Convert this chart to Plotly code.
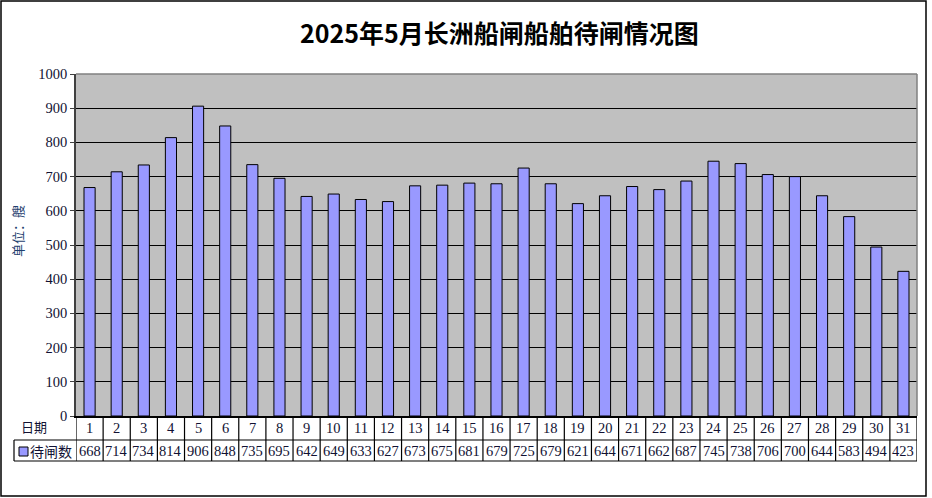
import plotly.graph_objects as go

days = list(range(1, 32))
day_labels = [str(d) for d in days]
waiting = [668, 714, 734, 814, 906, 848, 735, 695, 642, 649, 633, 627, 673, 675,
           681, 679, 725, 679, 621, 644, 671, 662, 687, 745, 738, 706, 700, 644,
           583, 494, 423]
y_ticks = list(range(0, 1001, 100))
title_text = "2025年5月长洲船闸船舶待闸情况图"
y_title = "单位：艘"
row1_label = "日期"
series_name = "待闸数"

BAR_COLOR = "#9999ff"
W, H = 932, 498
L, R, T, B = 76, 917, 74, 416


def px(xp):
    return (xp - L) / (R - L)


def py(yp):
    return (B - yp) / (B - T)


fig = go.Figure()
fig.add_trace(go.Bar(
    x=days, y=waiting, name=series_name, width=0.41,
    marker=dict(color=BAR_COLOR, line=dict(color="black", width=1)),
))

num_font = dict(family="Liberation Serif, Times New Roman, serif", size=14.5, color="#111133")
cjk_font = dict(family="Noto Sans CJK SC, sans-serif", size=13, color="#111133")

shapes = []
annotations = []

# outer frame
shapes.append(dict(type="rect", xref="paper", yref="paper",
                   x0=px(1), x1=px(926), y0=py(496), y1=py(1),
                   line=dict(color="black", width=1.5), fillcolor="rgba(0,0,0,0)"))

# table rows
y_r1_bot = py(440)
y_r2_bot = py(461)
shapes.append(dict(type="line", xref="paper", yref="paper",
                   x0=px(14), x1=1, y0=y_r1_bot, y1=y_r1_bot,
                   line=dict(color="black", width=1.2)))
shapes.append(dict(type="line", xref="paper", yref="paper",
                   x0=px(14), x1=1, y0=y_r2_bot, y1=y_r2_bot,
                   line=dict(color="black", width=1.2)))
shapes.append(dict(type="line", xref="paper", yref="paper",
                   x0=px(14), x1=px(14), y0=y_r1_bot, y1=y_r2_bot,
                   line=dict(color="black", width=1.2)))
for k in range(len(days) + 1):
    xb = days[0] - 0.5 + k
    shapes.append(dict(type="line", xref="x", yref="paper",
                       x0=xb, x1=xb, y0=0, y1=y_r2_bot,
                       line=dict(color="black", width=1.2)))

for d, lab, v in zip(days, day_labels, waiting):
    annotations.append(dict(x=d, y=py(428), xref="x", yref="paper", text=lab,
                            showarrow=False, font=num_font, xanchor="center", yanchor="middle"))
    annotations.append(dict(x=d, y=py(451), xref="x", yref="paper", text=str(v),
                            showarrow=False, font=num_font, xanchor="center", yanchor="middle"))

# legend swatch + series name
shapes.append(dict(type="rect", xref="paper", yref="paper",
                   x0=px(19), x1=px(28), y0=py(456), y1=py(447),
                   line=dict(color="black", width=1), fillcolor=BAR_COLOR))
annotations.append(dict(x=px(51), y=py(451), xref="paper", yref="paper", text=series_name,
                        showarrow=False, font=dict(family="Noto Sans CJK SC, sans-serif", size=14, color="#111133"),
                        xanchor="center", yanchor="middle"))
annotations.append(dict(x=px(34), y=py(426), xref="paper", yref="paper", text=row1_label,
                        showarrow=False, font=cjk_font, xanchor="center", yanchor="middle"))

# y-axis title
annotations.append(dict(x=px(18), y=py(231), xref="paper", yref="paper", text=y_title,
                        textangle=-90, showarrow=False,
                        font=dict(family="Noto Sans CJK SC, sans-serif", size=13, color="#1f3f6f"),
                        xanchor="center", yanchor="middle"))

# title
annotations.append(dict(x=px(499), y=py(32), xref="paper", yref="paper", text="<b>" + title_text + "</b>",
                        showarrow=False,
                        font=dict(family="Noto Sans CJK SC, sans-serif", size=25, color="black"),
                        xanchor="center", yanchor="middle"))

# plot border top/right
shapes.append(dict(type="line", xref="paper", yref="paper", x0=0, x1=1, y0=1, y1=1,
                   line=dict(color="#808080", width=1.5)))
shapes.append(dict(type="line", xref="paper", yref="paper", x0=1, x1=1, y0=0, y1=1,
                   line=dict(color="#808080", width=1.5)))

fig.update_layout(
    width=W, height=H,
    margin=dict(l=L, r=W - R, t=T, b=H - B, pad=0),
    paper_bgcolor="white", plot_bgcolor="#c0c0c0",
    showlegend=False,
    shapes=shapes, annotations=annotations,
    xaxis=dict(range=[0.5, 31.5], showticklabels=False, showgrid=False, zeroline=False,
               showline=True, linecolor="black", linewidth=2, ticks="", fixedrange=True),
    yaxis=dict(range=[0, 1000], tickvals=y_ticks, ticktext=[str(t) for t in y_ticks],
               showgrid=True, gridcolor="black", gridwidth=1, zeroline=False,
               showline=True, linecolor="#404040", linewidth=1.5,
               ticks="outside", ticklen=4, tickcolor="#404040",
               tickfont=num_font, fixedrange=True),
)

fig.write_html("out.html", config={"displayModeBar": False},
               post_script="document.body.style.margin='0';document.body.style.overflow='hidden';")
